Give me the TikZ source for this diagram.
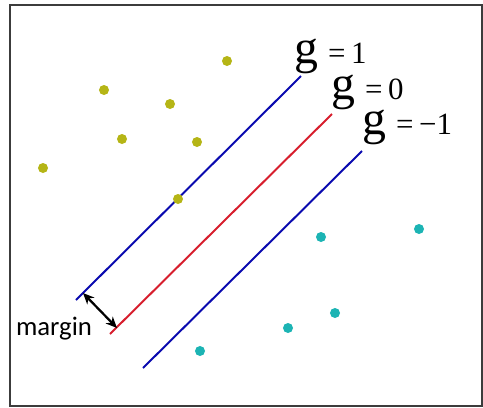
\documentclass[tikz,border=0pt]{standalone}
\usepackage{fontspec}
\setmainfont{Liberation Serif}
\newfontfamily\calibrifont{Carlito}
\usetikzlibrary{arrows.meta}
\definecolor{svyellow}{RGB}{181, 181, 22}
\definecolor{svcyan}{RGB}{28, 180, 180}
\definecolor{svblue}{RGB}{10, 10, 175}
\definecolor{svred}{RGB}{215, 30, 45}
\definecolor{frameborder}{RGB}{60, 60, 60}
\newcommand{\glabel}[1]{{\fontsize{34}{36}\selectfont g}\hspace{7pt}{\fontsize{22}{24}\selectfont =\hspace{4pt}#1}}

\begin{document}
\begin{tikzpicture}[
  x=0.025cm, y=-0.025cm,
  posdot/.style={circle, fill=svyellow, inner sep=0pt, minimum size=0.25cm},
  negdot/.style={circle, fill=svcyan, inner sep=0pt, minimum size=0.25cm},
  plane/.style={line width=1.4pt, color=svblue},
  boundary/.style={line width=1.4pt, color=svred},
  arr/.style={{Stealth[length=8pt, width=7pt]}-{Stealth[length=8pt, width=7pt]}, line width=1.6pt},
  lbl/.style={anchor=base west, inner sep=0pt, text height=16pt, text depth=6pt}
]
\useasboundingbox (0,0) rectangle (483,408);
\draw[frameborder, line width=1.2pt] (10,5) rectangle (482,406);

% hyperplanes
\coordinate (up1) at (76,300);
\coordinate (up2) at (301,76);
\coordinate (mid1) at (110,334);
\coordinate (mid2) at (332,114);
\coordinate (lo1) at (143,368);
\coordinate (lo2) at (362,151);
\draw[plane] (up1) -- (up2);
\draw[boundary] (mid1) -- (mid2);
\draw[plane] (lo1) -- (lo2);

\node[lbl] (gpos) at (294,63) {\glabel{1}};
\node[lbl] (gzero) at (331,99) {\glabel{0}};
\node[lbl] (gneg) at (362,134) {\glabel{−1}};

% margin
\coordinate (m1) at (83,293);
\coordinate (m2) at (117,328);
\draw[arr] (m1) -- (m2);
\node[anchor=base, inner sep=0pt, font=\calibrifont\fontsize{19}{21}\selectfont] (margin) at (54,335) {margin};

% class +1
\node[posdot] (p1) at (227,61) {};
\node[posdot] (p2) at (104,90) {};
\node[posdot] (p3) at (170,104) {};
\node[posdot] (p4) at (122,139) {};
\node[posdot] (p5) at (197,142) {};
\node[posdot] (p6) at (43,168) {};
\node[posdot] (p7) at (178,199) {};

% class -1
\node[negdot] (n1) at (419,229) {};
\node[negdot] (n2) at (321,237) {};
\node[negdot] (n3) at (335,313) {};
\node[negdot] (n4) at (288,328) {};
\node[negdot] (n5) at (200,351) {};
\end{tikzpicture}
\end{document}
